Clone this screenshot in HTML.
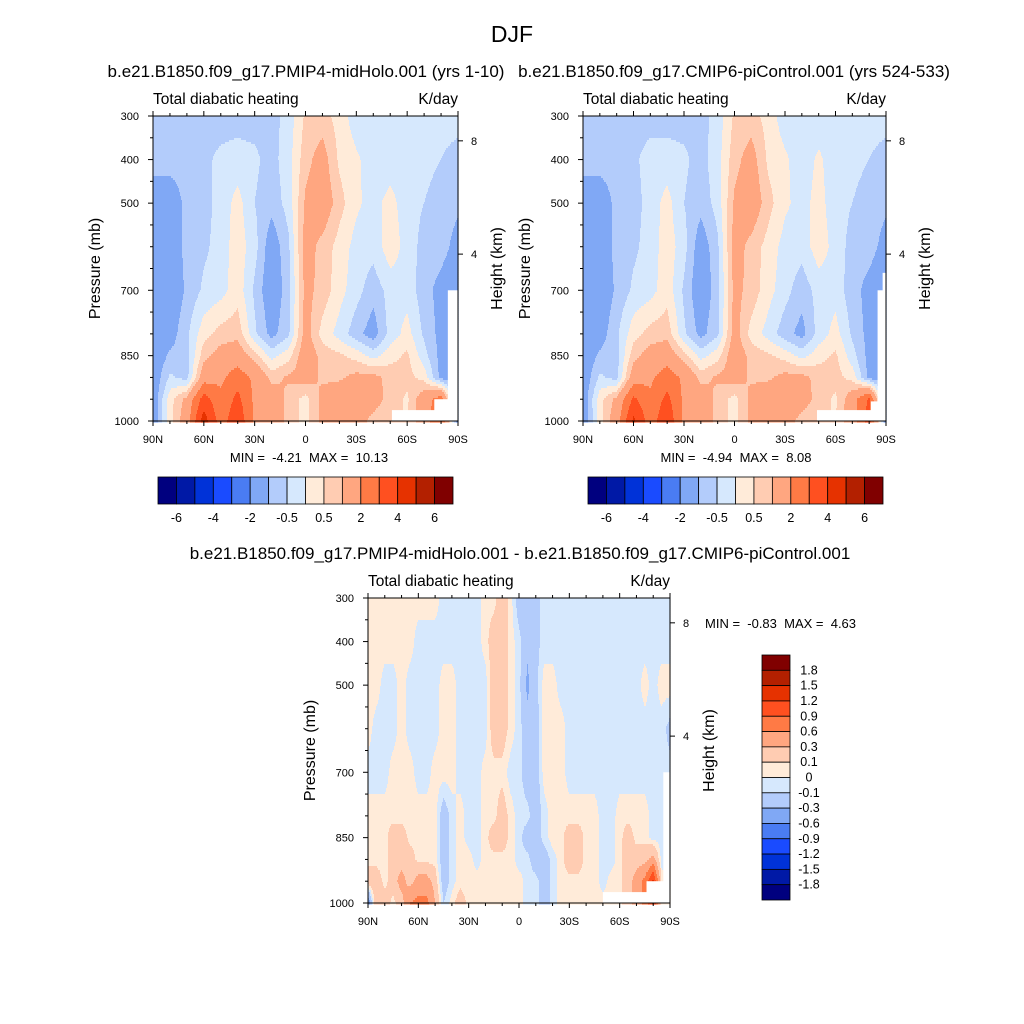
<!DOCTYPE html>
<html><head><meta charset="utf-8"><style>
body{margin:0;background:#fff}
svg{display:block;font-family:"Liberation Sans",sans-serif}
</style></head><body>
<svg id="fig" width="1024" height="1024" viewBox="0 0 1024 1024" xmlns="http://www.w3.org/2000/svg">
<rect width="1024" height="1024" fill="#fff"/>
<text x="512" y="42" font-size="23" text-anchor="middle">DJF</text>
<text x="306" y="77" font-size="17" text-anchor="middle">b.e21.B1850.f09_g17.PMIP4-midHolo.001 (yrs 1-10)</text>
<text x="734" y="77" font-size="17" text-anchor="middle">b.e21.B1850.f09_g17.CMIP6-piControl.001 (yrs 524-533)</text>
<text x="520" y="559" font-size="17" text-anchor="middle">b.e21.B1850.f09_g17.PMIP4-midHolo.001 - b.e21.B1850.f09_g17.CMIP6-piControl.001</text>
<g id="p1"></g>
<g id="p2"></g>
<g id="p3"></g>
</svg>
<script>
const lats10=[90,80,70,60,50,40,30,20,10,0,-10,-20,-30,-40,-50,-60,-70,-80,-90];
const pres10=[300,400,500,600,700,800,850,900,950,1000];
const vals1=[
[-0.7,-0.7,-0.7,-0.7,-0.7,-0.7,-0.7,-0.7,-0.3,0.6,0.7,0.3,-0.3,-0.3,-0.3,-0.3,-0.3,-0.3,-0.3],
[-0.7,-0.7,-0.7,-0.6,-0.4,-0.3,-0.4,-0.7,-0.2,0.8,1.3,0.4,0.1,-0.3,-0.3,-0.3,-0.3,-0.5,-0.7],
[-1.5,-1.5,-0.8,-0.7,-0.3,0.2,-0.5,-0.8,-0.3,1.1,1.5,0.7,0.1,-0.2,0.2,-0.3,-0.5,-0.8,-0.9],
[-1.5,-1.5,-0.8,-0.6,-0.3,0.3,-0.3,-1.4,-0.6,1.3,0.8,0.3,-0.2,-0.3,0.3,-0.2,-0.7,-0.8,-1.2],
[-1.5,-1.5,-0.9,-0.4,-0.2,0.3,-0.6,-1.5,-0.7,1.2,0.8,0.2,-0.3,-0.8,-0.3,-0.2,-0.8,-1.2,-1.5],
[-1.5,-1.3,-0.6,0.3,0.7,0.8,-0.4,-1.2,-0.6,1.3,0.3,-0.2,-0.8,-1.3,-0.3,0.2,-0.6,-1.2,-1.5],
[-1.5,-0.9,-0.7,0.8,1.3,1.5,0.7,-0.2,0.3,1.5,0.8,0.6,0.3,-0.2,0.3,0.6,-0.3,-1.2,-1.5],
[-1.5,-0.4,-0.7,1.5,1.8,2.5,1.8,0.8,1.1,1.3,0.9,0.9,1.2,1.2,0.8,0.7,0.3,-1.2,-1.5],
[-1.5,0.3,1.2,3.5,2.2,3.3,1.8,1.5,0.8,0.3,1.2,1.5,1.5,1.3,0.8,0.4,1.5,2.5,-1.5],
[-1.5,0.3,1.5,4.5,2.5,3.8,1.8,1.5,0.8,0.3,1.2,1.5,1.3,0.8,0.5,0.5,1.5,3.0,-1.5]];
const vals2=[
[-0.7,-0.7,-0.7,-0.7,-0.7,-0.7,-0.7,-0.7,-0.3,0.6,0.7,0.3,-0.3,-0.3,-0.3,-0.3,-0.3,-0.3,-0.3],
[-0.7,-0.7,-0.7,-0.6,-0.3,-0.3,-0.4,-0.7,-0.2,0.8,1.3,0.4,0.1,-0.3,0.1,-0.3,-0.3,-0.5,-0.7],
[-1.5,-1.5,-0.8,-0.7,-0.3,0.2,-0.5,-0.8,-0.3,1.1,1.5,0.7,0.1,-0.2,0.2,-0.3,-0.5,-0.8,-0.9],
[-1.5,-1.5,-0.8,-0.6,-0.3,0.3,-0.3,-1.4,-0.6,1.3,0.8,0.3,-0.2,-0.3,0.3,-0.2,-0.7,-0.8,-1.2],
[-1.5,-1.5,-0.9,-0.4,-0.2,0.3,-0.6,-1.5,-0.7,1.2,0.8,0.2,-0.3,-0.8,-0.3,-0.2,-0.8,-1.2,-1.5],
[-1.5,-1.3,-0.6,0.3,0.7,0.8,-0.4,-1.2,-0.6,1.3,0.3,-0.2,-0.8,-1.2,-0.3,0.2,-0.6,-1.2,-1.5],
[-1.5,-0.9,-0.7,0.8,1.3,1.5,0.7,-0.2,0.3,1.5,0.8,0.6,0.3,-0.2,0.3,0.6,-0.3,-1.2,-1.5],
[-1.5,-0.4,-0.7,1.5,1.8,2.5,1.8,0.8,1.1,1.3,0.9,0.9,1.2,1.2,0.8,0.7,0.3,-1.2,-1.5],
[-1.5,0.3,1.2,3.2,2.2,3.3,1.8,1.5,0.8,0.3,1.2,1.5,1.5,1.3,0.8,0.4,1.5,3.2,-1.5],
[-1.6,0.3,1.5,4.2,2.5,3.8,1.8,1.5,0.8,0.3,1.2,1.5,1.3,0.8,0.5,0.5,1.5,3.5,-1.5]];
const lats5=[90,85,80,75,70,65,60,55,50,45,40,35,30,25,20,15,10,5,0,-5,-10,-15,-20,-25,-30,-35,-40,-45,-50,-55,-60,-65,-70,-75,-80,-85,-90];
const vals3=[
[.05,.05,.05,.05,.05,.05,.05,.05,.05,-.05,-.05,-.05,-.05,-.05,.05,.05,.2,.05,-.2,-.2,-.15,-.05,-.05,-.05,-.05,-.05,-.05,-.05,-.05,-.05,-.05,-.05,-.05,-.05,-.05,-.05,-.05],
[.05,.05,.05,.05,.05,.05,-.05,-.05,-.05,-.05,-.05,-.05,-.05,-.05,.05,.2,.2,.05,-.05,-.25,-.15,-.05,-.05,-.05,-.05,-.05,-.05,-.05,-.05,-.05,-.05,-.05,-.05,-.05,-.05,-.05,-.05],
[.05,.05,-.05,-.05,.05,-.05,-.05,-.05,-.05,.05,.05,-.05,-.05,-.05,-.05,.2,.2,.05,-.05,-.35,-.15,.05,.05,-.05,-.05,-.05,-.05,-.05,-.05,-.05,-.05,-.05,-.05,.05,-.05,.05,.05],
[.05,-.05,-.05,-.05,.05,-.05,-.05,-.05,-.05,.05,.05,-.05,-.05,-.05,-.05,.2,.2,.05,-.05,-.2,-.2,.05,.05,.05,-.05,-.05,-.05,-.05,-.05,-.05,-.05,-.05,-.05,-.05,-.05,-.05,-.15],
[-.05,-.05,-.05,.05,.05,.05,-.05,-.05,.05,.05,.05,-.05,-.05,-.05,.05,.05,.05,-.05,-.05,-.2,-.2,.05,.05,.05,-.05,-.05,-.05,-.05,-.05,-.05,-.05,-.05,-.05,-.05,-.05,-.05,-.05],
[.05,.05,.05,.05,.05,.05,.05,.05,.05,-.2,-.05,.05,-.05,-.05,.05,.05,.2,.05,-.05,-.05,-.2,-.05,.05,.05,.05,.05,.05,.05,-.05,-.05,.05,.05,.05,.05,-.05,-.05,-.05],
[.05,.05,.05,.2,.2,.05,.05,.05,.05,-.2,-.05,.05,-.05,-.05,.05,.2,.2,.05,-.05,-.2,-.2,-.05,.05,.05,.2,.2,.05,.05,-.05,-.05,.05,.2,.05,.05,-.05,-.05,-.05],
[.05,.05,.05,.2,.2,.2,.05,.05,.05,-.2,-.05,.05,.05,-.05,.05,.05,.05,.05,-.05,-.05,-.2,-.2,-.05,.05,.2,.2,.05,.05,-.05,-.05,.05,.2,.2,.2,.4,-.05,-.05],
[.2,.2,.05,.2,.4,.2,.4,.4,.2,-.2,-.05,.05,.05,.05,.05,.05,.05,.05,.05,-.05,-.05,-.2,-.05,.05,.05,.05,.05,.05,-.05,.05,.05,.2,.4,.7,1.3,.05,.05],
[-.5,.3,.2,.05,.2,.6,.7,.7,.3,-.1,.05,.2,.05,.05,.05,.05,.05,.05,.05,-.05,-.05,-.2,-.05,.05,.05,.05,.05,.05,.05,.05,.05,.2,.4,.7,1.3,.05,.05]];
const levels12=[-6,-5,-4,-3,-2,-1,-0.5,0,0.5,1,2,3,4,5,6];
const levels3=[-1.8,-1.5,-1.2,-0.9,-0.6,-0.3,-0.1,0,0.1,0.3,0.6,0.9,1.2,1.5,1.8];
const cbLabels12=["-6","-4","-2","-0.5","0.5","2","4","6"];
const cbLabels3=["1.8","1.5","1.2","0.9","0.6","0.3","0.1","0","-0.1","-0.3","-0.6","-0.9","-1.2","-1.5","-1.8"];
const yTicks=[300,400,500,700,850,1000];
const latTicks=[90,60,30,0,-30,-60,-90];
const latTickLabels=["90N","60N","30N","0","30S","60S","90S"];
const heightTicks=["8","4"];
const heightTickPres=[357,617];
const minMax1=["-4.21","10.13"],minMax2=["-4.94","8.08"],minMax3=["-0.83","4.63"];
const COLORS=["#00007f","#0019a6","#0032d8","#1a4bff","#4a7cf3","#80a8f5","#b3ccfb","#d6e8fd","#ffebd9","#ffccb2","#ffa680","#ff7a45","#ff5020","#e63200","#b32000","#800000"];
const NS="http://www.w3.org/2000/svg";
function mk(tag,attrs,parent){const e=document.createElementNS(NS,tag);for(const k in attrs)e.setAttribute(k,attrs[k]);parent.appendChild(e);return e;}
function interp(lats,pres,vals,lat,p){
  let j=0;while(j<pres.length-2&&p>pres[j+1])j++;
  let ty=(p-pres[j])/(pres[j+1]-pres[j]);ty=Math.max(0,Math.min(1,ty));
  let fi=(lats[0]-lat)/(lats[0]-lats[lats.length-1])*(lats.length-1);
  let i=Math.min(Math.floor(fi),lats.length-2);let tx=fi-i;
  const a=vals[j][i]*(1-tx)+vals[j][i+1]*tx, b=vals[j+1][i]*(1-tx)+vals[j+1][i+1]*tx;
  return a*(1-ty)+b*ty;
}
function lvl(levels,v){let k=0;while(k<levels.length&&v>=levels[k])k++;return k;}
function panel(g,ox,oy,w,h,lats,pres,vals,levels,masks,mm,cb){
  const X=lat=>ox+(90-lat)/180*w, Y=p=>oy+(p-300)/700*h;
  const field=mk('g',{},g);
  
  
  const step=2;
  for(let py=0;py<h;py+=step){
    const p=300+(py+step/2)/h*700;
    let start=0,cur=-1;
    for(let px=0;px<=w;px++){
      let c=-2;
      if(px<w){const lat=90-(px+0.5)/w*180;c=lvl(levels,interp(lats,pres,vals,lat,p));}
      if(c!==cur){
        if(cur>=0){const r=mk('rect',{x:ox+start,y:oy+py,width:px-start+0.6,height:step+0.6,fill:COLORS[cur]},field);}
        start=px;cur=c;
      }
    }
  }
  masks.forEach(m=>{mk('rect',{x:X(m[0]),y:Y(m[2]),width:X(m[1])-X(m[0])+0.5,height:Y(m[3])-Y(m[2])+0.5,fill:'#fff'},g);});
  mk('rect',{x:ox,y:oy,width:w,height:h,fill:'none',stroke:'#000','stroke-width':1},g);
  for(let lat=90;lat>=-90;lat-=10){
    const major=lat%30===0,L=major?5:3,x=X(lat);
    mk('line',{x1:x,y1:oy+h,x2:x,y2:oy+h+L,stroke:'#000'},g);
    mk('line',{x1:x,y1:oy,x2:x,y2:oy-L,stroke:'#000'},g);
  }
  latTicks.forEach((lat,i)=>{const t=mk('text',{x:X(lat),y:oy+h+22,'font-size':11,'text-anchor':'middle'},g);t.textContent=latTickLabels[i];});
  for(let p=300;p<=1000;p+=50){const y=Y(p),L=yTicks.includes(p)?5:3;mk('line',{x1:ox,y1:y,x2:ox-L,y2:y,stroke:'#000'},g);}
  yTicks.forEach(p=>{const t=mk('text',{x:ox-14,y:Y(p)+4,'font-size':11,'text-anchor':'end'},g);t.textContent=p;});
  heightTicks.forEach((z,i)=>{const y=Y(heightTickPres[i]);mk('line',{x1:ox+w,y1:y,x2:ox+w+5,y2:y,stroke:'#000'},g);const t=mk('text',{x:ox+w+16,y:y+4,'font-size':11,'text-anchor':'middle'},g);t.textContent=z;});
  let t=mk('text',{x:ox,y:oy-12,'font-size':15.5},g);t.textContent='Total diabatic heating';
  t=mk('text',{x:ox+w,y:oy-12,'font-size':15.5,'text-anchor':'end'},g);t.textContent='K/day';
  t=mk('text',{transform:`translate(${ox-53},${oy+h/2}) rotate(-90)`,'font-size':16,'text-anchor':'middle'},g);t.textContent='Pressure (mb)';
  t=mk('text',{transform:`translate(${ox+w+44},${oy+h/2}) rotate(-90)`,'font-size':16,'text-anchor':'middle'},g);t.textContent='Height (km)';
  t=mk('text',{x:mm.x,y:mm.y,'font-size':13,'text-anchor':mm.anchor,style:'white-space:pre'},g);t.textContent='MIN =  '+mm.v[0]+'  MAX =  '+mm.v[1];
  const cg=mk('g',{},g);
  const n=COLORS.length;
  if(!cb.vertical){
    const bw=cb.w/n;
    COLORS.forEach((c,i)=>{const r=mk('rect',{x:cb.x+i*bw,y:cb.y,width:bw,height:cb.h,fill:c,stroke:'#000','stroke-width':0.8},cg);});
    cb.labels.forEach((s,k)=>{const tt=mk('text',{x:cb.x+(2*k+1)*bw,y:cb.y+cb.h+18,'font-size':12.5,'text-anchor':'middle'},cg);tt.textContent=s;});
  } else {
    const bh=cb.h/n;
    COLORS.slice().reverse().forEach((c,i)=>{const r=mk('rect',{x:cb.x,y:cb.y+i*bh,width:cb.w,height:bh,fill:c,stroke:'#000','stroke-width':0.8},cg);});
    cb.labels.forEach((s,k)=>{const tt=mk('text',{x:cb.x+cb.w+19,y:cb.y+(k+1)*bh+4,'font-size':12.5,'text-anchor':'middle'},cg);tt.textContent=s;});
  }
}
panel(document.getElementById('p1'),153,116,305,305,lats10,pres10,vals1,levels12,
  [[-51,-76,975,1000],[-76,-90,950,1000],[-84,-90,700,1000]],
  {x:309,y:462,anchor:'middle',v:minMax1},{x:158,y:477,w:295,h:27,labels:cbLabels12});
panel(document.getElementById('p2'),583,116,303,305,lats10,pres10,vals2,levels12,
  [[-49,-81,975,1000],[-81,-90,955,1000],[-85,-90,700,1000],[-88,-90,660,1000]],
  {x:736,y:462,anchor:'middle',v:minMax2},{x:588,y:477,w:295,h:27,labels:cbLabels12});
panel(document.getElementById('p3'),368,598,302,305,lats5,pres10,vals3,levels3,
  [[-50,-76,975,1000],[-76,-90,950,1000],[-86,-90,700,1000]],
  {x:705,y:628,anchor:'start',v:minMax3},{x:762,y:655,w:28,h:245,vertical:true,labels:cbLabels3});
</script>
</body></html>
